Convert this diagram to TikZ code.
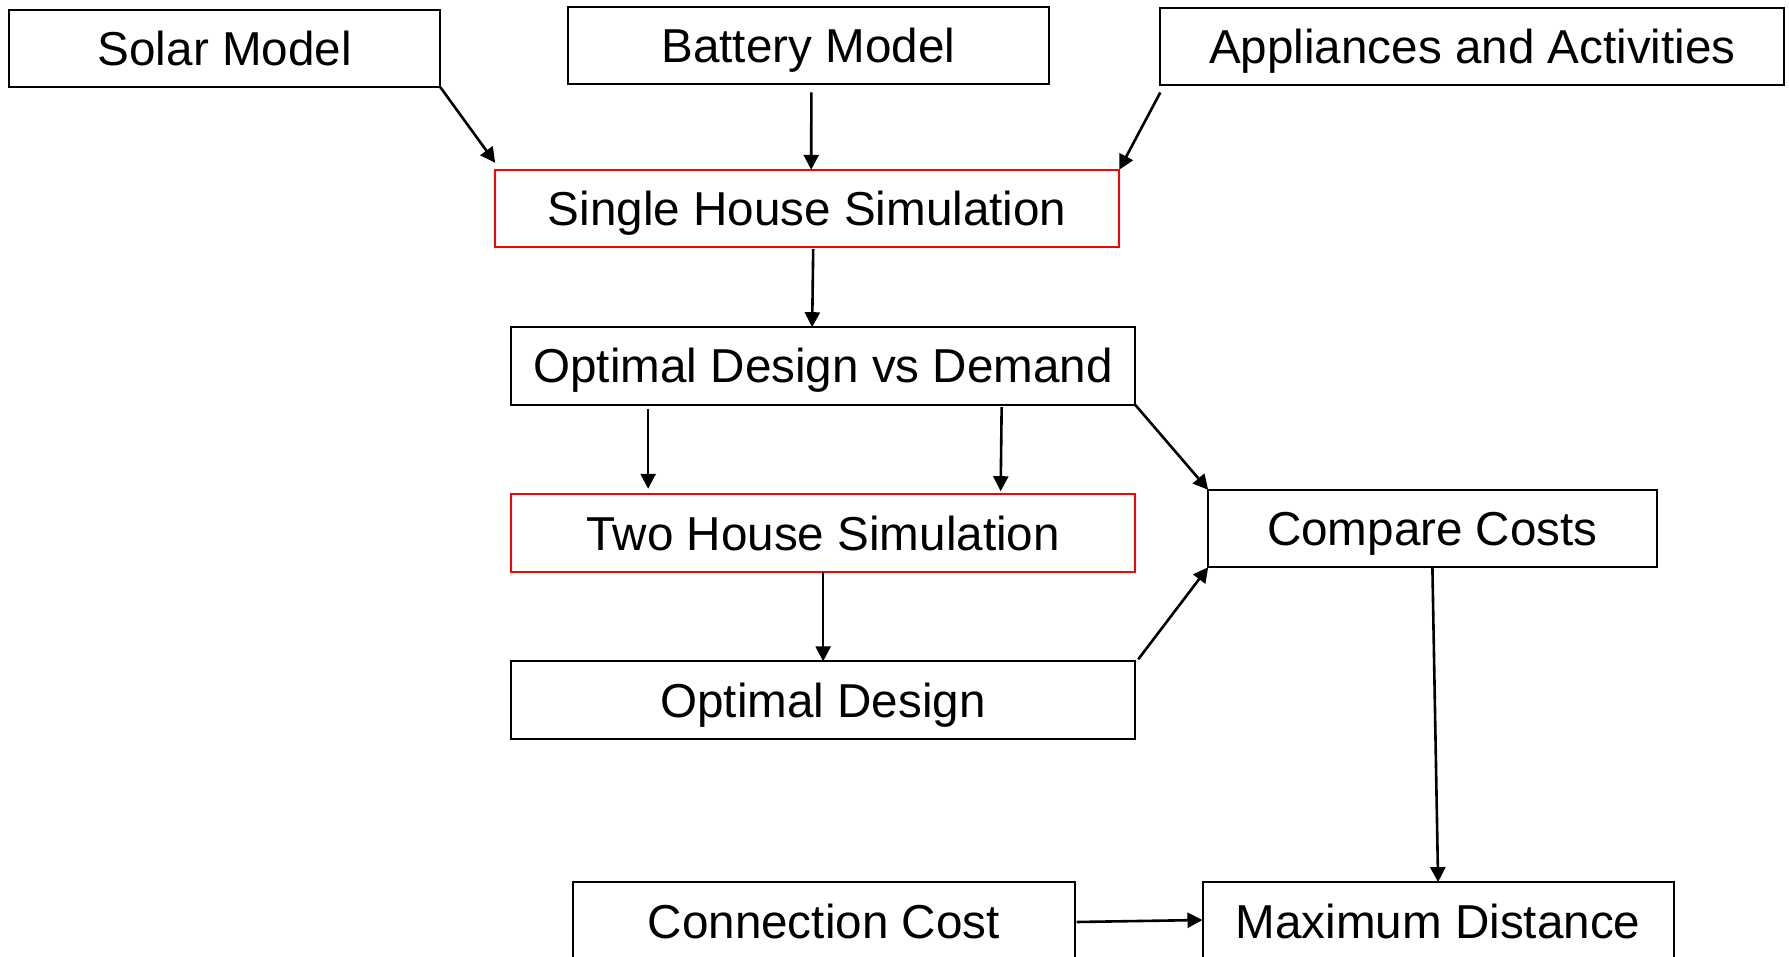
\documentclass[tikz,border=0pt]{standalone}
\usepackage{fontspec}
\setmainfont{Liberation Sans}
\usetikzlibrary{arrows.meta}
\begin{document}
\begin{tikzpicture}[x=1pt,y=-1pt,
  box/.style={draw=black, line width=2pt, inner sep=0pt, outer sep=0pt,
    text height=34pt, text depth=0pt, font=\fontsize{47.6}{57}\selectfont},
  hot/.style={box, draw=red},
  flow/.style={line width=2.6pt, -{Triangle[length=15pt,width=15pt]}}]

% page frame
\useasboundingbox (0,0) rectangle (1789,957);
\fill[white] (0,0) rectangle (1789,957);
\clip (0,0) rectangle (1789,957);

% model inputs
\node[box, minimum width=431.3pt, minimum height=77.6pt] (solar)   at (224.75,48.5) {Solar Model};
\node[box, minimum width=480.3pt, minimum height=77pt]   (battery) at (808.35,46) {Battery Model};
\node[box, minimum width=624.1pt, minimum height=77.7pt] (appl)    at (1472.35,46.6) {Appliances and Activities};

% simulation chain
\node[hot, minimum width=624pt,   minimum height=77.4pt] (single)  at (807.2,208.5) {Single House Simulation};
\node[box, minimum width=624.1pt, minimum height=77.6pt] (optdvd)  at (823.15,366) {Optimal Design vs Demand};
\node[hot, minimum width=624.1pt, minimum height=78.4pt] (two)     at (823.15,533) {Two House Simulation};
\node[box, minimum width=624.1pt, minimum height=77.3pt] (optd)    at (823.15,700) {Optimal Design};

% cost analysis
\node[box, minimum width=448.4pt, minimum height=77.4pt] (compare) at (1432.4,528.5) {Compare Costs};
\node[box, minimum width=502pt,   minimum height=77.8pt] (conn)    at (823.7,921) {Connection Cost};
\node[box, minimum width=471.2pt, minimum height=77.8pt] (maxd)    at (1438.1,921) {Maximum Distance};

% connectors
\draw[flow] (solar.south east) -- ([yshift=7pt]single.north west);
\draw[flow] ([xshift=3pt,yshift=-8pt]battery.south) -- ([xshift=4pt]single.north);
\draw[flow] ([yshift=-7pt]appl.south west) -- (single.north east);
\draw[flow] ([xshift=6pt,yshift=-2pt]single.south) -- ([xshift=-11pt]optdvd.north);
\draw[flow] ([xshift=-175pt,yshift=-4pt]optdvd.south) -- ([xshift=-175pt,yshift=5pt]two.north);
\draw[flow] ([xshift=178.5pt,yshift=-2.4pt]optdvd.south) -- ([xshift=177.5pt,yshift=2.6pt]two.north);
\draw[flow] (optdvd.south east) -- (compare.north west);
\draw[flow] (two.south) -- (optd.north);
\draw[flow] ([xshift=3pt,yshift=2pt]optd.north east) -- (compare.south west);
\draw[flow] (compare.south) -- (maxd.north);
\draw[flow] ([xshift=2pt,yshift=-1pt]conn.east) -- ([yshift=1pt]maxd.west);
\end{tikzpicture}
\end{document}
